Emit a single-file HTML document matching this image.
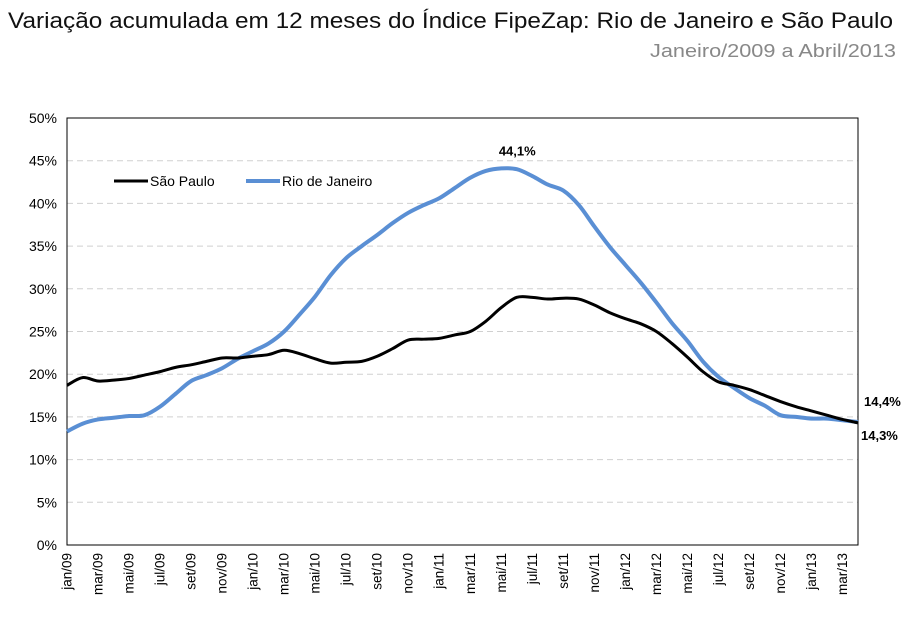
<!DOCTYPE html>
<html><head><meta charset="utf-8"><style>
body{margin:0;background:#fff;width:916px;height:637px;overflow:hidden;font-family:"Liberation Sans",sans-serif}
</style></head><body>
<svg width="916" height="637" xmlns="http://www.w3.org/2000/svg">
<text x="8" y="28" font-size="22" fill="#111" textLength="885" lengthAdjust="spacingAndGlyphs">Variação acumulada em 12 meses do Índice FipeZap: Rio de Janeiro e São Paulo</text>
<text x="650" y="57" font-size="18" fill="#888" textLength="246" lengthAdjust="spacingAndGlyphs">Janeiro/2009 a Abril/2013</text>
<g id="grid"></g><g id="axes"></g><g id="lines"></g><g id="labels"></g>
<g>
<line x1="114" y1="181" x2="148" y2="181" stroke="#000" stroke-width="3"/>
<text x="150" y="186" font-size="14" fill="#000">São Paulo</text>
<line x1="246" y1="181" x2="280" y2="181" stroke="#5a8fd4" stroke-width="4"/>
<text x="282" y="186" font-size="14" fill="#000">Rio de Janeiro</text>
</g>
</svg>
<script>
const months=['jan','fev','mar','abr','mai','jun','jul','ago','set','out','nov','dez'];
const saoPaulo=[18.7,19.6,19.2,19.3,19.5,19.9,20.3,20.8,21.1,21.5,21.9,21.9,22.1,22.3,22.8,22.4,21.8,21.3,21.4,21.5,22.1,23.0,24.0,24.1,24.2,24.6,25.0,26.2,27.8,29.0,29.0,28.8,28.9,28.8,28.1,27.2,26.5,25.9,25.0,23.6,22.0,20.3,19.1,18.7,18.2,17.5,16.8,16.2,15.7,15.2,14.7,14.3];
const rioDeJaneiro=[13.3,14.2,14.7,14.9,15.1,15.2,16.2,17.7,19.2,19.9,20.7,21.8,22.7,23.6,25.0,27.0,29.1,31.6,33.6,35.0,36.3,37.7,38.9,39.8,40.6,41.8,43.0,43.8,44.1,44.0,43.2,42.2,41.5,39.8,37.3,34.9,32.8,30.7,28.4,26.0,23.9,21.5,19.7,18.4,17.2,16.3,15.2,15.0,14.8,14.8,14.6,14.4];
const yTicks=[0,5,10,15,20,25,30,35,40,45,50];
const NS='http://www.w3.org/2000/svg';
const X0=67,X1=858,Y0=545,Y1=118;
const n=saoPaulo.length;
const xs=i=>X0+(X1-X0)*i/(n-1);
const ys=v=>Y0-(Y0-Y1)*v/50;
function mk(tag,attrs,parent){const e=document.createElementNS(NS,tag);for(const k in attrs)e.setAttribute(k,attrs[k]);parent.appendChild(e);return e;}
const grid=document.getElementById('grid'),axes=document.getElementById('axes'),lines=document.getElementById('lines'),labels=document.getElementById('labels');
yTicks.forEach(t=>{
 if(t>0&&t<50){const g=mk('line',{x1:X0,x2:X1,y1:ys(t),y2:ys(t),stroke:'#d0d0d0','stroke-dasharray':'6,4'},grid);
 
 }
 const tx=mk('text',{x:57,y:ys(t)+5,'font-size':14,'text-anchor':'end',fill:'#000'},axes);
 tx.textContent=t+'%';
 
 
});
const fr=mk('rect',{x:X0,y:Y1,width:X1-X0,height:Y0-Y1,fill:'none',stroke:'#000','stroke-width':1},axes);


for(let i=0;i<n;i+=2){
 const m=months[i%12]+'/'+String(9+Math.floor(i/12)).padStart(2,'0');
 const x=xs(i);
 const tx=mk('text',{x:0,y:0,'font-size':13.5,'text-anchor':'end',fill:'#000',transform:`translate(${x+4.5},553) rotate(-90)`},axes);
 tx.textContent=m;
 
 
}
function path(vals){
 const p=vals.map((v,i)=>[xs(i),ys(v)]);
 let d='M'+p[0][0]+','+p[0][1];
 for(let i=0;i<p.length-1;i++){
  const a=p[Math.max(0,i-1)],b=p[i],c=p[i+1],e=p[Math.min(p.length-1,i+2)];
  d+=` C${b[0]+(c[0]-a[0])/6},${b[1]+(c[1]-a[1])/6} ${c[0]-(e[0]-b[0])/6},${c[1]-(e[1]-b[1])/6} ${c[0]},${c[1]}`;
 }
 return d;
}
const rj=mk('path',{d:path(rioDeJaneiro),fill:'none',stroke:'#5a8fd4','stroke-width':4,'stroke-linejoin':'round'},lines);


const sp=mk('path',{d:path(saoPaulo),fill:'none',stroke:'#000','stroke-width':3,'stroke-linejoin':'round'},lines);


const peak=mk('text',{x:xs(28)+16,y:ys(rioDeJaneiro[28])-13,'font-size':13,'font-weight':'bold','text-anchor':'middle',fill:'#000'},labels);
peak.textContent='44,1%';


const l1=mk('text',{x:864,y:ys(rioDeJaneiro[n-1])-16,'font-size':13,'font-weight':'bold',fill:'#000'},labels);
l1.textContent='14,4%';


const l2=mk('text',{x:861,y:ys(saoPaulo[n-1])+17,'font-size':13,'font-weight':'bold',fill:'#000'},labels);
l2.textContent='14,3%';


</script>
</body></html>
